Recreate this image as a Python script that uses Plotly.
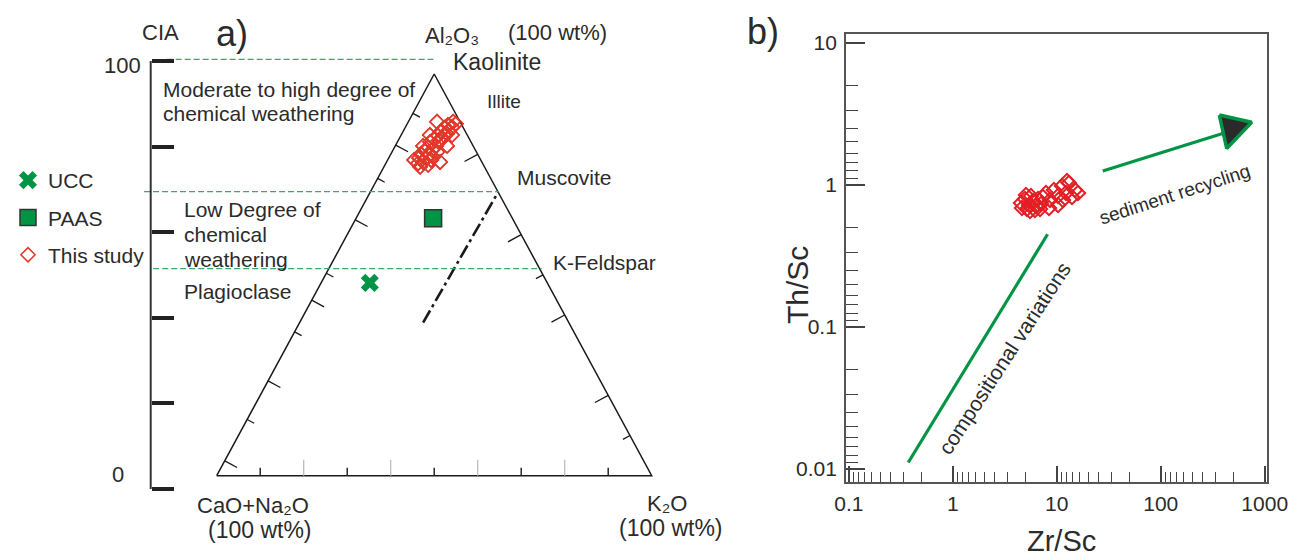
import numpy as np
import plotly.graph_objects as go

W, H = 1298, 560
FONT = "Liberation Sans, Arial, sans-serif"
TXT = "#2b2b2b"
GREEN = "#009444"
GUIDE_GREEN = "#3aa866"
RED_A = "#e2382a"
RED_B = "#e31e24"

# ---------------- Panel a: A-CN-K diagram (wt%) ----------------
# This study: Al2O3 (A), CaO+Na2O (CN), K2O (K)
study_A = [87.6, 86.8, 87.3, 86.6, 85.8, 85.8, 88.1, 84.8, 84.6, 83.8,
           83.3, 83.1, 82.1, 81.8, 81.1, 80.8, 79.8, 80.1, 79.1, 79.1,
           78.1, 78.6, 77.8, 77.4, 79.3, 76.9, 80.6, 84.1, 85.1, 88.1,
           82.1, 82.1, 78.6, 78.1, 84.8, 84.8]
study_CN = [1.2, 2.5, 3.2, 4.4, 3.7, 5.5, 5.3, 5.4, 6.8, 8.2,
            7.0, 9.4, 8.5, 10.5, 9.9, 11.7, 11.1, 13.0, 12.3, 13.9,
            13.5, 11.4, 14.8, 12.7, 10.6, 14.8, 9.0, 6.1, 4.5, 1.6,
            6.0, 11.5, 15.3, 9.6, 3.5, 8.6]
study_K = [11.2, 10.7, 9.5, 9.0, 10.5, 8.7, 6.6, 9.8, 8.6, 8.0,
           9.7, 7.5, 9.4, 7.7, 9.0, 7.5, 9.1, 6.9, 8.6, 7.0,
           8.4, 10.0, 7.4, 9.9, 10.1, 8.3, 10.4, 9.8, 10.4, 10.3,
           11.9, 6.4, 6.1, 12.3, 11.7, 6.6]

# reference compositions
ucc_A, ucc_CN, ucc_K = [48.0], [40.8], [11.2]
paas_A, paas_CN, paas_K = [64.1], [18.2], [17.7]

# weathering trend (dash-dot), ending at muscovite
trend_A = [38.1, 70.6]
trend_CN = [33.5, 0.0]
trend_K = [28.4, 29.4]

# CIA scale and the weathering-degree guide lines
cia_ticks = [0, 20, 40, 60, 80, 100]
guide_cia = [100.4, 69.5, 51.5]
guide_x0 = [-11.5, -16.7, -14.6]
guide_x1 = [49.8, 64.9, 74.7]

# tick marks along the triangle edges (percent along each edge)
base_ticks_dark = [10, 30, 50, 70, 90]
base_ticks_light = [20, 40, 60, 80]
left_ticks_long = [3.7, 23.6, 43.7, 63.7, 82.3]
left_ticks_short = [14.0, 35.8, 50.4, 74.0, 90.2]
right_ticks_long = [20, 40, 60, 80]
right_ticks_short = [10, 50]

# ---------------- Panel b: Th/Sc vs Zr/Sc ----------------
zr_sc = [4.53, 4.95, 5.41, 5.91, 5.17, 4.63, 5.65, 6.31, 6.60, 5.06,
         5.53, 6.17, 7.05, 7.37, 6.90, 7.88, 8.61, 9.40, 10.28, 11.23,
         11.48, 12.27, 13.11, 14.01, 14.97, 16.00, 12.54, 10.28, 8.42]
th_sc = [0.743, 0.793, 0.720, 0.768, 0.675, 0.686, 0.833, 0.708, 0.793, 0.846,
         0.653, 0.664, 0.732, 0.819, 0.675, 0.874, 0.781, 0.918, 0.833, 0.979,
         0.781, 0.874, 1.028, 0.819, 0.918, 0.874, 1.062, 0.720, 0.686]

comp_x, comp_y = [0.373, 8.16], [0.0111, 0.448]        # compositional variations
rec_x, rec_y = [27.7, 415.0], [1.25, 2.32]              # sediment recycling shaft
head_x, head_y = [366.0, 750.0, 431.0], [3.09, 2.75, 1.80]  # arrow head

x_major = [0.1, 1, 10, 100, 1000]
x_major_text = ["0.1", "1", "10", "100", "1000"]
y_major = [0.01, 0.1, 1, 10]
y_major_text = ["0.01", "0.1", "1", "10"]

# ---------------- geometry of panel a ----------------
XA_DOM = [0.0, 740 / W]
XA_RANGE = [-49.82, 120.30]
YA_RANGE = [-20.99, 118.42]
CIA_RANGE = [-16.59, 114.25]
CIA_POS = 150.7 / W
sx = (XA_DOM[1] - XA_DOM[0]) * W / (XA_RANGE[1] - XA_RANGE[0])   # px per x unit
sy = H / (YA_RANGE[1] - YA_RANGE[0])                                # px per y unit


def project(A, CN, K):
    A, CN, K = (np.asarray(v, float) for v in (A, CN, K))
    s = A + CN + K
    a, k = 100 * A / s, 100 * K / s
    return k + a / 2, a


def seg_trace(points, color, width):
    xs, ys = [], []
    for (x0, y0, x1, y1) in points:
        xs += [x0, x1, None]
        ys += [y0, y1, None]
    return go.Scatter(x=xs, y=ys, mode="lines", line=dict(color=color, width=width),
                      hoverinfo="skip", showlegend=False, xaxis="x", yaxis="y")


# inward unit normals of the two inclined edges, in pixel space (y down)
ev = np.array([50 * sx, -100 * sy])
ev /= np.linalg.norm(ev)
n_left = np.array([-ev[1], ev[0]])
n_right = np.array([-n_left[0], n_left[1]])


def edge_ticks(vals, side, length):
    segs = []
    for a in vals:
        if side == "base":
            segs.append((a, 0, a, length / sy))
            continue
        n = n_left if side == "left" else n_right
        x0 = a / 2 if side == "left" else 100 - a / 2
        segs.append((x0, a, x0 + n[0] * length / sx, a - n[1] * length / sy))
    return segs


fig = go.Figure()

# legend entries first (trace order sets legend order)
ux, uy = project(ucc_A, ucc_CN, ucc_K)
fig.add_trace(go.Scatter(x=ux, y=uy, mode="markers", name="UCC", legendgroup="g1",
                         marker=dict(symbol="x", size=16, color=GREEN, line=dict(width=0)),
                         xaxis="x", yaxis="y"))
px_, py_ = project(paas_A, paas_CN, paas_K)
fig.add_trace(go.Scatter(x=px_, y=py_, mode="markers", name="PAAS", legendgroup="g2",
                         marker=dict(symbol="square", size=17, color=GREEN,
                                     line=dict(color="#333333", width=1.5)),
                         xaxis="x", yaxis="y"))
sx_, sy_ = project(study_A, study_CN, study_K)
fig.add_trace(go.Scatter(x=sx_, y=sy_, mode="markers", name="This study", legendgroup="g3",
                         marker=dict(symbol="diamond-open", size=11, color=RED_A,
                                     line=dict(color=RED_A, width=1.5)),
                         xaxis="x", yaxis="y"))

# triangle outline
tx, ty = project([0, 0, 100, 0], [100, 0, 0, 100], [0, 100, 0, 0])
fig.add_trace(go.Scatter(x=tx, y=ty, mode="lines", line=dict(color="#1a1a1a", width=1.5),
                         hoverinfo="skip", showlegend=False, xaxis="x", yaxis="y"))

# edge ticks
fig.add_trace(seg_trace(edge_ticks(base_ticks_light, "base", 16), "#b8b8b8", 1.2))
fig.add_trace(seg_trace(edge_ticks(base_ticks_dark, "base", 8), "#1a1a1a", 1.4))
fig.add_trace(seg_trace(edge_ticks(left_ticks_long, "left", 14)
                        + edge_ticks(left_ticks_short, "left", 8)
                        + edge_ticks(right_ticks_long, "right", 15)
                        + edge_ticks(right_ticks_short, "right", 8), "#1a1a1a", 1.3))

# weathering trend
trx, try_ = project(trend_A, trend_CN, trend_K)
fig.add_trace(go.Scatter(x=trx, y=try_, mode="lines",
                         line=dict(color="#1a1a1a", width=2.6, dash="14px,4px,3px,4px"),
                         hoverinfo="skip", showlegend=False, xaxis="x", yaxis="y"))

# redraw the study points above the outline
fig.add_trace(go.Scatter(x=sx_, y=sy_, mode="markers", showlegend=False, hoverinfo="skip",
                         marker=dict(symbol="diamond-open", size=11, color=RED_A,
                                     line=dict(color=RED_A, width=1.5)),
                         xaxis="x", yaxis="y"))

# CIA guide lines
gx, gy = [], []
for c, a, b in zip(guide_cia, guide_x0, guide_x1):
    gx += [a, b, None]
    gy += [c, c, None]
fig.add_trace(go.Scatter(x=gx, y=gy, mode="lines",
                         line=dict(color=GUIDE_GREEN, width=1.3, dash="6px,3px"),
                         hoverinfo="skip", showlegend=False, xaxis="x", yaxis="y3"))

# ---------------- panel b traces ----------------
fig.add_trace(go.Scatter(x=comp_x, y=comp_y, mode="lines", line=dict(color=GREEN, width=3.2),
                         hoverinfo="skip", showlegend=False, xaxis="x2", yaxis="y2"))
fig.add_trace(go.Scatter(x=rec_x, y=rec_y, mode="lines", line=dict(color=GREEN, width=3.2),
                         hoverinfo="skip", showlegend=False, xaxis="x2", yaxis="y2"))
fig.add_trace(go.Scatter(x=head_x + head_x[:1], y=head_y + head_y[:1], mode="lines",
                         fill="toself", fillcolor="#2a2a2a",
                         line=dict(color=GREEN, width=3.5),
                         hoverinfo="skip", showlegend=False, xaxis="x2", yaxis="y2"))
fig.add_trace(go.Scatter(x=zr_sc, y=th_sc, mode="markers", showlegend=False,
                         marker=dict(symbol="diamond-open", size=11, color=RED_B,
                                     line=dict(color=RED_B, width=2)),
                         xaxis="x2", yaxis="y2"))


def mirrored_minor(kmin, kmax):
    vals = []
    for k in range(kmin, kmax + 1):
        for m in range(2, 10):
            vals.append(10.0 ** (k + 1) / m)
    return vals


# ---------------- annotations ----------------
def P(x_px, y_px):
    return x_px / W, 1 - y_px / H


def note(text, x_px, y_px, size, xanchor="center", angle=0, color=TXT, align="left"):
    x, y = P(x_px, y_px)
    return dict(text=text, x=x, y=y, xref="paper", yref="paper", showarrow=False,
                xanchor=xanchor, yanchor="middle", textangle=angle, align=align,
                font=dict(family=FONT, size=size, color=color))


annotations = [
    note("a)", 232, 33, 36),
    note("CIA", 160, 32, 22),
    note("100", 143, 65, 22, xanchor="right"),
    note("0", 118, 474, 22),
    note("Al₂O₃", 452, 35, 22),
    note("(100 wt%)", 557, 32, 22),
    note("Kaolinite", 497, 62, 23),
    note("Illite", 504, 101, 19),
    note("Muscovite", 564, 177, 21),
    note("K-Feldspar", 604, 262, 21),
    note("Moderate to high degree of", 161, 89, 21, xanchor="left"),
    note("chemical weathering", 161, 114, 21, xanchor="left"),
    note("Low Degree of", 182, 209, 21, xanchor="left"),
    note("chemical", 182, 234, 21, xanchor="left"),
    note("weathering", 182, 259, 21, xanchor="left"),
    note("Plagioclase", 182, 291, 21, xanchor="left"),
    note("CaO+Na₂O", 253, 505, 22),
    note("(100 wt%)", 260, 530, 23),
    note("K₂O", 667, 503, 22),
    note("(100 wt%)", 671, 528, 23),
    note("b)", 763, 31, 36),
    note("Th/Sc", 797, 285, 30, angle=-90),
    note("Zr/Sc", 1061, 541, 29),
    note("compositional variations", 1004, 358, 21, angle=-57),
    note("sediment recycling", 1174, 194, 19, angle=-18),
]

axis_tick_font = dict(family=FONT, size=21, color=TXT)

fig.update_layout(
    width=W, height=H,
    margin=dict(l=0, r=0, t=0, b=0),
    paper_bgcolor="white", plot_bgcolor="rgba(0,0,0,0)",
    font=dict(family=FONT, color=TXT),
    showlegend=True,
    legend=dict(x=8 / W, y=1 - 160 / H, xanchor="left", yanchor="top",
                bgcolor="rgba(0,0,0,0)", tracegroupgap=7,
                font=dict(family=FONT, size=21, color=TXT)),
    xaxis=dict(domain=XA_DOM, range=XA_RANGE, visible=False, fixedrange=True),
    yaxis=dict(domain=[0, 1], range=YA_RANGE, visible=False, fixedrange=True),
    yaxis3=dict(overlaying="y", anchor="free", position=CIA_POS, range=CIA_RANGE,
                tickmode="array", tickvals=cia_ticks, ticks="inside", ticklen=22,
                tickwidth=3.5, tickcolor="#222222", showticklabels=False,
                showgrid=False, zeroline=False, showline=False, fixedrange=True),
    xaxis2=dict(domain=[846 / W, 1267.3 / W], anchor="y2", type="log",
                range=[-1.027, 3.025], showgrid=False, zeroline=False,
                showline=True, linecolor="#555555", linewidth=1.8, mirror=True,
                tickmode="array", tickvals=x_major, ticktext=x_major_text,
                ticks="inside", ticklen=16, tickwidth=1.5, tickcolor="#444444",
                tickfont=axis_tick_font, ticklabelstandoff=2,
                minor=dict(tickmode="array", tickvals=mirrored_minor(-2, 2),
                           ticks="inside", ticklen=10, tickwidth=1.3,
                           tickcolor="#444444", showgrid=False),
                automargin=False, fixedrange=True),
    yaxis2=dict(domain=[(H - 482) / H, (H - 34.3) / H], anchor="x2", type="log",
                range=[-2.0918, 1.0582], showgrid=False, zeroline=False,
                showline=True, linecolor="#555555", linewidth=1.8, mirror=True,
                tickmode="array", tickvals=y_major, ticktext=y_major_text,
                ticks="inside", ticklen=19, tickwidth=1.5, tickcolor="#444444",
                tickfont=axis_tick_font, ticklabelstandoff=3,
                minor=dict(tickmode="array", tickvals=mirrored_minor(-2, 0),
                           ticks="inside", ticklen=12, tickwidth=1.3,
                           tickcolor="#444444", showgrid=False),
                automargin=False, fixedrange=True),
    annotations=annotations,
    shapes=[dict(type="line", xref="paper", yref="y3", x0=CIA_POS, x1=CIA_POS,
                 y0=0, y1=100, line=dict(color="#333333", width=2))],
)

fig.write_html("out.html")
